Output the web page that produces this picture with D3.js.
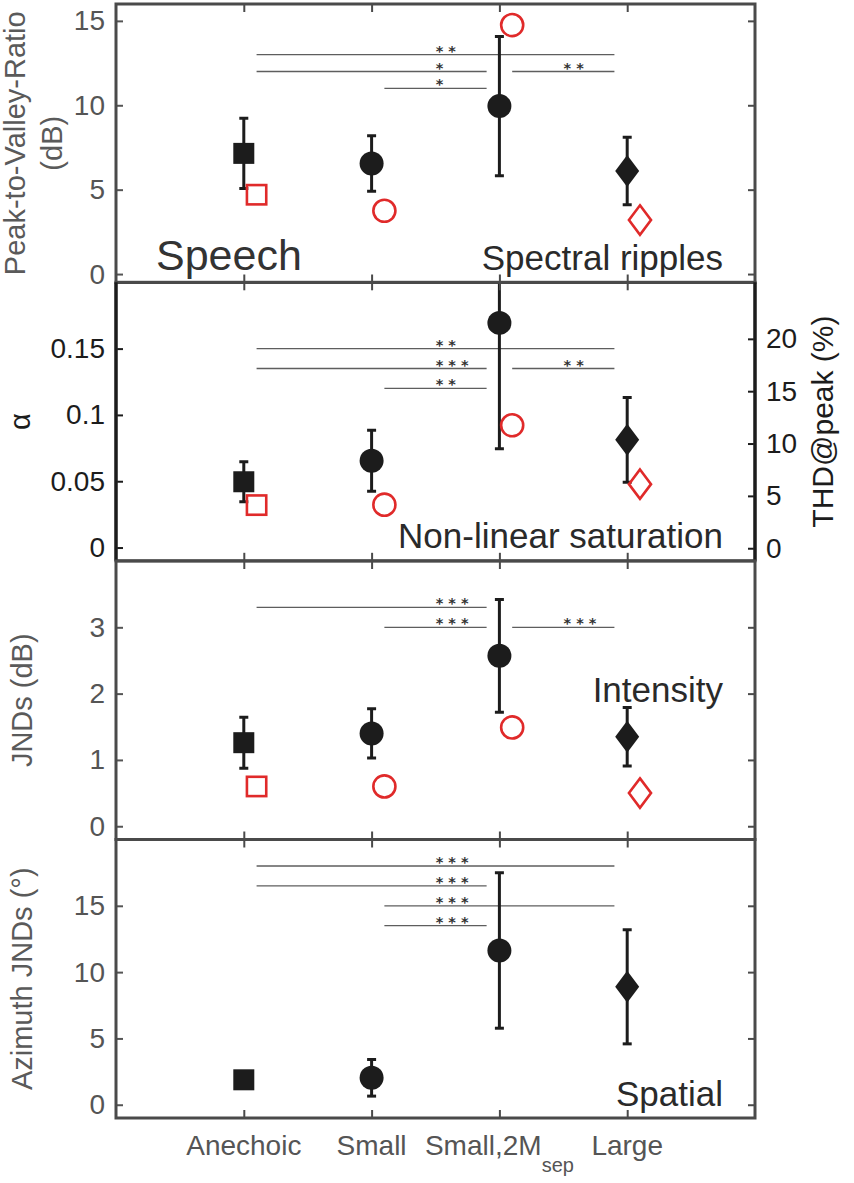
<!DOCTYPE html>
<html>
<head>
<meta charset="utf-8">
<script src="https://cdn.jsdelivr.net/npm/d3@7"></script>
<style>
body { margin: 0; background: #fff; }
text { font-family: "Liberation Sans", Arial, Helvetica, sans-serif; }
text.stars { font-family: "DejaVu Sans", sans-serif; font-weight: bold; }
</style>
</head>
<body>
<script>
// categories along the x axis (subscript kept apart)
var CATEGORIES = ['Anechoic', 'Small', 'Small,2M', 'Large'];
var CATEGORY_SUB = ['', '', 'sep', ''];
var SHAPES = ['square', 'circle', 'circle', 'diamond'];

// Peak-to-Valley-Ratio (dB), spectral ripples
var PVR_MEAN = [7.15, 6.55, 9.95, 6.1];
var PVR_ERR = [2.08, 1.65, 4.12, 2.0];
var PVR_MODEL = [4.7, 3.75, 14.75, 3.2];
var PVR_TICKS = [0, 5, 10, 15];
var PVR_SIG = [
    { from: 1.1, to: 3.9, y: 13, stars: '**', at: 2.51 },
    { from: 1.1, to: 2.9, y: 12, stars: '*', at: 2.51 },
    { from: 3.1, to: 3.9, y: 12, stars: '**', at: 3.51 },
    { from: 2.1, to: 2.9, y: 11, stars: '*', at: 2.51 }
];

// alpha, non-linear saturation
var ALPHA_MEAN = [0.0496, 0.0654, 0.1694, 0.0812];
var ALPHA_ERR = [0.015, 0.023, 0.095, 0.032];
var ALPHA_MODEL = [0.032, 0.0323, 0.0922, 0.0478];
var ALPHA_TICKS = [0, 0.05, 0.1, 0.15];
var THD_TICKS = [0, 5, 10, 15, 20];
var ALPHA_SIG = [
    { from: 1.1, to: 3.9, y: 0.15, stars: '**', at: 2.51 },
    { from: 1.1, to: 2.9, y: 0.135, stars: '***', at: 2.51 },
    { from: 3.1, to: 3.9, y: 0.135, stars: '**', at: 3.51 },
    { from: 2.1, to: 2.9, y: 0.12, stars: '**', at: 2.51 }
];

// intensity JNDs (dB)
var JND_MEAN = [1.26, 1.40, 2.57, 1.35];
var JND_ERR = [0.385, 0.37, 0.85, 0.44];
var JND_MODEL = [0.60, 0.60, 1.49, 0.50];
var JND_TICKS = [0, 1, 2, 3];
var JND_SIG = [
    { from: 1.1, to: 2.9, y: 3.3, stars: '***', at: 2.51 },
    { from: 2.1, to: 2.9, y: 3.0, stars: '***', at: 2.51 },
    { from: 3.1, to: 3.9, y: 3.0, stars: '***', at: 3.51 }
];

// azimuth JNDs (deg)
var AZ_MEAN = [1.88, 2.03, 11.63, 8.89];
var AZ_ERR = [0.5, 1.38, 5.86, 4.3];
var AZ_TICKS = [0, 5, 10, 15];
var AZ_SIG = [
    { from: 1.1, to: 3.9, y: 18, stars: '***', at: 2.51 },
    { from: 1.1, to: 2.9, y: 16.5, stars: '***', at: 2.51 },
    { from: 2.1, to: 3.9, y: 15, stars: '***', at: 2.51 },
    { from: 2.1, to: 2.9, y: 13.5, stars: '***', at: 2.51 }
];

var WIDTH = 854,
    HEIGHT = 1183,
    LEFT = 116,
    RIGHT = 755,
    PANEL_TOP = [4, 282.3, 561, 839.5],
    PANEL_H = 278.5,
    GREY = '#555',
    BOX = '#4a4a4a',
    INK = '#1c1c1c',
    RED = '#e02a2a';

var x = d3.scaleLinear().domain([0, 5]).range([LEFT, RIGHT]);

var PANELS = [
    { mean: PVR_MEAN, err: PVR_ERR, model: PVR_MODEL, sig: PVR_SIG, ticks: PVR_TICKS,
      domain: [-0.5, 16], color: GREY, title: 'Spectral ripples', titleY: 266,
      label: ['Peak-to-Valley-Ratio', '(dB)'], labelX: [25, 62] },
    { mean: ALPHA_MEAN, err: ALPHA_ERR, model: ALPHA_MODEL, sig: ALPHA_SIG, ticks: ALPHA_TICKS,
      domain: [-0.01, 0.2], color: INK, title: 'Non-linear saturation', titleY: 266,
      label: ['\u03b1'], labelX: [30],
      right: { ticks: THD_TICKS, domain: [-1.2, 25.4], label: 'THD@peak (%)' } },
    { mean: JND_MEAN, err: JND_ERR, model: JND_MODEL, sig: JND_SIG, ticks: JND_TICKS,
      domain: [-0.2, 4], color: GREY, title: 'Intensity', titleY: 141,
      label: ['JNDs (dB)'], labelX: [32] },
    { mean: AZ_MEAN, err: AZ_ERR, model: null, sig: AZ_SIG, ticks: AZ_TICKS,
      domain: [-1, 20], color: GREY, title: 'Spatial', titleY: 266,
      label: ['Azimuth JNDs (\u00b0)'], labelX: [32] }
];

document.addEventListener('DOMContentLoaded', function() {
    var svg = d3.select('body').append('svg')
        .attr('width', WIDTH)
        .attr('height', HEIGHT);

    PANELS.forEach(function(p, i) { drawPanel(svg, p, i); });

    svg.append('text')
        .attr('x', 156)
        .attr('y', 270)
        .attr('font-size', 43)
        .attr('fill', '#333')
        .text('Speech');

    drawCategoryLabels(svg);
});

function styleAxis(g, color, fontSize) {
    g.select('.domain').remove();
    g.selectAll('line').attr('stroke', color).attr('stroke-width', 2);
    g.selectAll('text').attr('fill', color).attr('font-size', fontSize);
}

function drawMarker(sel, shape, cx, cy, filled) {
    var s = filled ? 1 : 0.92;
    if (shape === 'square') {
        var w = 21 * s;
        sel.append('rect').attr('x', cx - w / 2).attr('y', cy - w / 2)
            .attr('width', w).attr('height', w)
            .attr('fill', filled ? INK : 'none')
            .attr('stroke', filled ? 'none' : RED).attr('stroke-width', 2.6);
    } else if (shape === 'circle') {
        sel.append('circle').attr('cx', cx).attr('cy', cy).attr('r', 12 * s)
            .attr('fill', filled ? INK : 'none')
            .attr('stroke', filled ? 'none' : RED).attr('stroke-width', 2.6);
    } else {
        var hw = 12 * s, hh = 16 * s;
        sel.append('path')
            .attr('d', 'M' + cx + ',' + (cy - hh) + 'L' + (cx + hw) + ',' + cy +
                'L' + cx + ',' + (cy + hh) + 'L' + (cx - hw) + ',' + cy + 'Z')
            .attr('fill', filled ? INK : 'none')
            .attr('stroke', filled ? 'none' : RED).attr('stroke-width', 2.6);
    }
}

function drawPanel(svg, p, i) {
    var top = PANEL_TOP[i],
        bottom = top + PANEL_H;

    var y = d3.scaleLinear().domain(p.domain).range([bottom, top]);

    svg.append('clipPath').attr('id', 'clip' + i)
        .append('rect')
        .attr('x', LEFT).attr('y', top)
        .attr('width', RIGHT - LEFT).attr('height', PANEL_H);

    var g = svg.append('g');
    var plot = g.append('g').attr('clip-path', 'url(#clip' + i + ')');

    // significance brackets
    p.sig.forEach(function(s) {
        plot.append('line')
            .attr('x1', x(s.from)).attr('x2', x(s.to))
            .attr('y1', y(s.y)).attr('y2', y(s.y))
            .attr('stroke', '#5e5e5e').attr('stroke-width', 1.3);
        plot.append('text')
            .attr('class', 'stars')
            .attr('x', x(s.at) - 1)
            .attr('y', y(s.y) + 1)
            .attr('font-size', 14.5)
            .attr('letter-spacing', 5)
            .attr('fill', '#333')
            .text(s.stars);
    });

    // error bars
    p.mean.forEach(function(m, k) {
        var cx = x(k + 1),
            lo = y(m - p.err[k]),
            hi = y(m + p.err[k]);
        plot.append('line').attr('x1', cx).attr('x2', cx).attr('y1', lo).attr('y2', hi)
            .attr('stroke', INK).attr('stroke-width', 3);
        [lo, hi].forEach(function(yy) {
            plot.append('line').attr('x1', cx - 4.5).attr('x2', cx + 4.5).attr('y1', yy).attr('y2', yy)
                .attr('stroke', INK).attr('stroke-width', 3);
        });
    });

    p.mean.forEach(function(m, k) {
        drawMarker(plot, SHAPES[k], x(k + 1), y(m), true);
    });

    if (p.model) {
        p.model.forEach(function(m, k) {
            drawMarker(plot, SHAPES[k], x(k + 1.1), y(m), false);
        });
    }

    // axes (ticks point inward)
    var left = g.append('g')
        .attr('transform', 'translate(' + LEFT + ',0)')
        .call(d3.axisLeft(y).tickValues(p.ticks).tickFormat(d3.format('~g'))
            .tickSizeInner(-7).tickSizeOuter(0).tickPadding(11));
    styleAxis(left, p.color, 28);

    var yR;
    if (p.right) {
        yR = d3.scaleLinear().domain(p.right.domain).range([bottom, top]);
        var right = g.append('g')
            .attr('transform', 'translate(' + RIGHT + ',0)')
            .call(d3.axisRight(yR).tickValues(p.right.ticks)
                .tickSizeInner(-7).tickSizeOuter(0).tickPadding(11));
        styleAxis(right, INK, 28);
    } else {
        var mirror = g.append('g')
            .attr('transform', 'translate(' + RIGHT + ',0)')
            .call(d3.axisRight(y).tickValues(p.ticks).tickFormat('')
                .tickSizeInner(-7).tickSizeOuter(0));
        styleAxis(mirror, BOX, 28);
    }

    var topAxis = g.append('g')
        .attr('transform', 'translate(0,' + top + ')')
        .call(d3.axisTop(x).tickValues([1, 2, 3, 4]).tickFormat('')
            .tickSizeInner(-8).tickSizeOuter(0));
    styleAxis(topAxis, BOX, 28);

    var bottomAxis = g.append('g')
        .attr('transform', 'translate(0,' + bottom + ')')
        .call(d3.axisBottom(x).tickValues([1, 2, 3, 4]).tickFormat('')
            .tickSizeInner(-8).tickSizeOuter(0));
    styleAxis(bottomAxis, BOX, 28);

    g.append('rect')
        .attr('x', LEFT).attr('y', top)
        .attr('width', RIGHT - LEFT).attr('height', PANEL_H)
        .attr('fill', 'none')
        .attr('stroke', BOX)
        .attr('stroke-width', 3);

    if (p.right) {
        [LEFT, RIGHT].forEach(function(xx) {
            g.append('line').attr('x1', xx).attr('x2', xx).attr('y1', top).attr('y2', bottom)
                .attr('stroke', INK).attr('stroke-width', 3.2);
        });
        g.append('text')
            .attr('transform', 'translate(833,' + (top + PANEL_H / 2) + ') rotate(-90)')
            .attr('text-anchor', 'middle')
            .attr('font-size', 30)
            .attr('fill', INK)
            .text(p.right.label);
    }

    // panel name
    g.append('text')
        .attr('x', 723)
        .attr('y', top + p.titleY)
        .attr('text-anchor', 'end')
        .attr('font-size', 35)
        .attr('fill', '#2a2a2a')
        .text(p.title);

    // y label lines
    p.label.forEach(function(line, j) {
        g.append('text')
            .attr('transform', 'translate(' + p.labelX[j] + ',' + (top + PANEL_H / 2) + ') rotate(-90)')
            .attr('text-anchor', 'middle')
            .attr('font-size', 29)
            .attr('fill', p.color === INK ? INK : '#5a5a5a')
            .text(line);
    });
}

function drawCategoryLabels(svg) {
    CATEGORIES.forEach(function(c, k) {
        var t = svg.append('text')
            .attr('x', x(k + 1))
            .attr('y', 1155)
            .attr('text-anchor', 'middle')
            .attr('font-size', 28)
            .attr('fill', GREY);
        t.append('tspan').text(c);
        if (CATEGORY_SUB[k]) {
            t.append('tspan')
                .attr('font-size', 20)
                .attr('dy', 17)
                .text(CATEGORY_SUB[k]);
        }
    });
}
</script>
</body>
</html>
